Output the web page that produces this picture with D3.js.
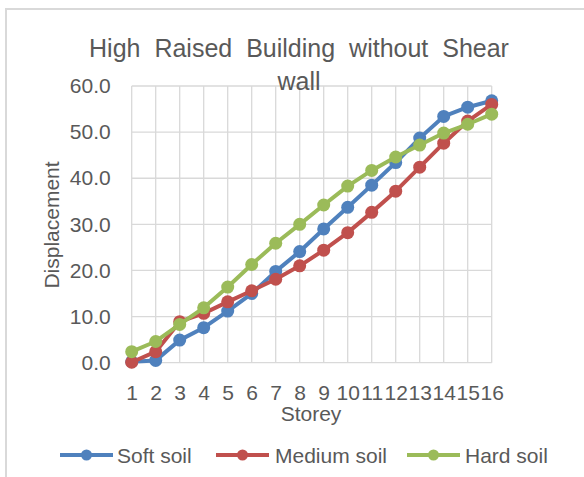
<!DOCTYPE html>
<html>
<head>
<meta charset="utf-8">
<script src="https://cdn.jsdelivr.net/npm/d3@7/dist/d3.min.js"></script>
<style>
  html, body { margin: 0; padding: 0; background: #fff; }
  svg { display: block; font-family: "Liberation Sans", Arial, sans-serif; }
</style>
</head>
<body>
<svg id="chart" width="584" height="477"></svg>
<script>
// Storey-wise lateral displacement for three soil types
const storeys = d3.range(1, 17);
const softSoil   = [0.2, 0.5, 4.9, 7.6, 11.2, 15.0, 19.8, 24.1, 29.0, 33.7, 38.5, 43.4, 48.7, 53.4, 55.4, 56.8];
const mediumSoil = [0.1, 2.4, 8.9, 10.7, 13.2, 15.6, 18.1, 21.0, 24.4, 28.2, 32.6, 37.2, 42.4, 47.6, 52.4, 56.0];
const hardSoil   = [2.4, 4.6, 8.3, 11.9, 16.4, 21.3, 25.9, 30.0, 34.2, 38.3, 41.7, 44.6, 47.2, 49.8, 51.7, 53.9];
const seriesNames = ["Soft soil", "Medium soil", "Hard soil"];
const seriesColors = ["#4F81BD", "#C0504D", "#9BBB59"];
const yTicks = [0, 10, 20, 30, 40, 50, 60];

const series = [softSoil, mediumSoil, hardSoil].map((vals, i) => ({
  name: seriesNames[i], color: seriesColors[i],
  points: vals.map((v, j) => ({ storey: storeys[j], value: v }))
}));

const svg = d3.select("#chart");
const textColor = "#595959";
const gridColor = "#d9d9d9";

// chart frame
svg.append("rect")
  .attr("x", 6).attr("y", 9).attr("width", 620).attr("height", 520)
  .attr("fill", "#fff").attr("stroke", gridColor).attr("stroke-width", 2);

const x = d3.scalePoint().domain(storeys).range([131.7, 491.7]);
const y = d3.scaleLinear().domain([0, 60]).range([362.7, 86]);

// gridlines
const grid = svg.append("g");
grid.selectAll("line.h").data(yTicks).join("line")
  .attr("x1", x.range()[0]).attr("x2", x.range()[1])
  .attr("y1", d => y(d)).attr("y2", d => y(d))
  .attr("stroke", gridColor).attr("stroke-width", 1.3);
grid.selectAll("line.v").data(storeys).join("line")
  .attr("x1", d => x(d)).attr("x2", d => x(d))
  .attr("y1", y(0)).attr("y2", y(60))
  .attr("stroke", gridColor).attr("stroke-width", 1.3);

// y axis labels
const yAxis = svg.append("g")
  .attr("transform", `translate(${x.range()[0]},0)`)
  .call(d3.axisLeft(y).tickValues(yTicks).tickFormat(d3.format(".1f")).tickSize(0).tickPadding(21));
yAxis.select(".domain").remove();
yAxis.selectAll("text").attr("fill", textColor).attr("font-size", 21)
  .attr("font-family", "Liberation Sans, Arial, sans-serif");

// x axis labels
const xAxis = svg.append("g")
  .attr("transform", `translate(0,${y(0)})`)
  .call(d3.axisBottom(x).tickSize(0).tickPadding(22));
xAxis.select(".domain").remove();
xAxis.selectAll("text").attr("fill", textColor).attr("font-size", 21)
  .attr("font-family", "Liberation Sans, Arial, sans-serif");

// series lines and markers
const line = d3.line().x(d => x(d.storey)).y(d => y(d.value));
series.forEach(s => {
  const g = svg.append("g");
  g.append("path").datum(s.points)
    .attr("d", line).attr("fill", "none")
    .attr("stroke", s.color).attr("stroke-width", 4).attr("stroke-linejoin", "round");
  g.selectAll("circle").data(s.points).join("circle")
    .attr("cx", d => x(d.storey)).attr("cy", d => y(d.value))
    .attr("r", 6.5).attr("fill", s.color);
});

// title
const title = svg.append("text")
  .attr("x", 299).attr("text-anchor", "middle")
  .attr("fill", textColor).attr("font-size", 25).attr("word-spacing", 7);
title.append("tspan").attr("x", 299).attr("y", 57).text("High Raised Building without Shear");
title.append("tspan").attr("x", 299).attr("y", 90).text("wall");

// axis titles
svg.append("text")
  .attr("transform", "translate(59,225) rotate(-90)")
  .attr("text-anchor", "middle").attr("fill", textColor).attr("font-size", 21)
  .text("Displacement");
svg.append("text")
  .attr("x", 311).attr("y", 421).attr("text-anchor", "middle")
  .attr("fill", textColor).attr("font-size", 21)
  .text("Storey");

// legend
const legendItems = [
  { x0: 60, tx: 117 },
  { x0: 216, tx: 275 },
  { x0: 407, tx: 465 }
];
const legend = svg.append("g");
series.forEach((s, i) => {
  const it = legendItems[i];
  const ly = 455;
  legend.append("line")
    .attr("x1", it.x0).attr("x2", it.x0 + 53).attr("y1", ly).attr("y2", ly)
    .attr("stroke", s.color).attr("stroke-width", 4);
  legend.append("circle")
    .attr("cx", it.x0 + 26.5).attr("cy", ly).attr("r", 5.5).attr("fill", s.color);
  legend.append("text")
    .attr("x", it.tx).attr("y", ly + 7.5)
    .attr("fill", textColor).attr("font-size", 21)
    .text(s.name);
});
</script>
</body>
</html>
